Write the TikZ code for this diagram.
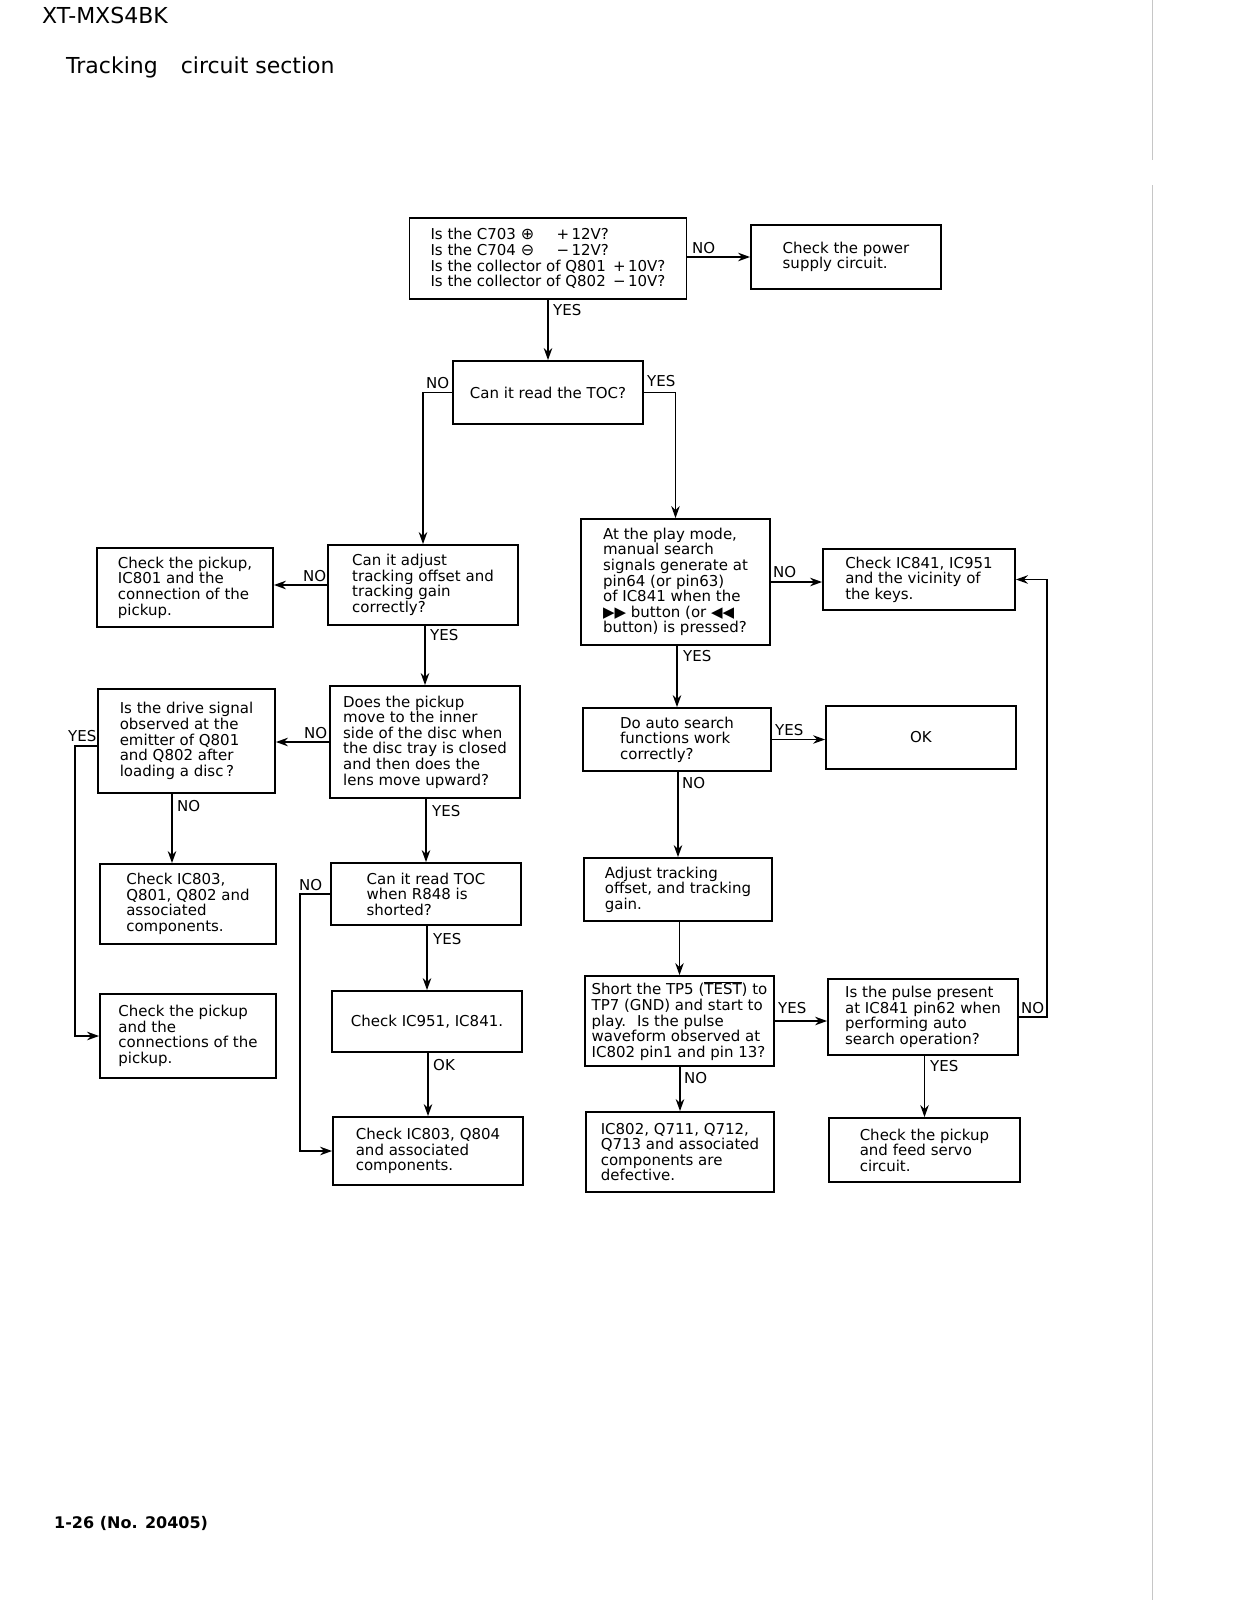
\documentclass[tikz,border=0pt]{standalone}
\usepackage{fontspec}
\setmainfont{DejaVu Sans}
\usetikzlibrary{arrows.meta,calc}
\begin{document}
\begin{tikzpicture}[x=1pt,y=-1pt,
  box/.style={draw, line width=1.8pt, align=left, inner sep=0pt,
    font=\fontsize{15}{15.6}\selectfont},
  arr/.style={line width=1.6pt, -{Stealth[length=12pt,width=8.5pt]}},
  lbl/.style={font=\fontsize{15}{16}\selectfont, anchor=base west, inner sep=0pt},
  hdr/.style={font=\fontsize{22}{24}\selectfont, anchor=base west, inner sep=0pt}]
\useasboundingbox (0,0) rectangle (1237,1600);

% header / footer
\node[hdr] (model) at (42,24) {XT-MXS4BK};
\node[hdr] (title) at (66,74) {Tracking\hspace{23pt}circuit section};
\node[anchor=base west, inner sep=0pt, font=\bfseries\fontsize{16}{18}\selectfont] (foot) at (54,1528) {1-26 (No. 20405)};
\draw[gray!45, line width=0.6pt] (1152,0) -- (1152,160) (1152,185) -- (1152,1600);

% boxes
\node[box, minimum width=277pt, minimum height=81pt] (B1) at (548,258.5)
 {\makebox[126pt][l]{Is the C703 \smash{\fontsize{16}{15}\selectfont ⊕}}+\,12V?\\
  \makebox[126pt][l]{Is the C704 \smash{\fontsize{16}{15}\selectfont ⊖}}−\,12V?\\
  Is the collector of Q801 \,+\,10V?\\
  Is the collector of Q802 \,−\,10V?};
\node[box, minimum width=190pt, minimum height=64pt] (B2) at (846,257)
 {Check the power\\supply circuit.};
\node[box, minimum width=190pt, minimum height=63pt] (B3) at (548,392.5)
 {Can it read the TOC?};
\node[box, minimum width=190pt, minimum height=80pt] (B4) at (423,585)
 {Can it adjust\\tracking offset and\\tracking gain\\correctly?};
\node[box, minimum width=176pt, minimum height=79pt] (B5) at (185,587.5)
 {Check the pickup,\\IC801 and the\\connection of the\\pickup.};
\node[box, minimum width=189pt, minimum height=126pt] (B6) at (675.5,582)
 {At the play mode,\\manual search\\signals generate at\\pin64 (or pin63)\\of IC841 when the\\▶▶ button (or ◀◀\\button) is pressed?};
\node[box, minimum width=192pt, minimum height=61pt] (B7) at (919,579.5)
 {Check IC841, IC951\\and the vicinity of\\the keys.};
\node[box, minimum width=190pt, minimum height=112pt] (B8) at (425,742)
 {Does the pickup\\move to the inner\\side of the disc when\\the disc tray is closed\\and then does the\\lens move upward?};
\node[box, minimum width=177pt, minimum height=104pt] (B9) at (186.5,741)
 {Is the drive signal\\observed at the\\emitter of Q801\\and Q802 after\\loading a disc\,?};
\node[box, minimum width=188pt, minimum height=63pt] (B10) at (677,739.5)
 {Do auto search\\functions work\\correctly?};
\node[box, minimum width=190pt, minimum height=63pt] (B11) at (921,737.5)
 {OK};
\node[box, minimum width=176pt, minimum height=80pt] (B12) at (188,904)
 {Check IC803,\\Q801, Q802 and\\associated\\components.};
\node[box, minimum width=190pt, minimum height=62pt] (B13) at (426,894)
 {Can it read TOC\\when R848 is\\shorted?};
\node[box, minimum width=188pt, minimum height=63pt] (B14) at (678,889.5)
 {Adjust tracking\\offset, and tracking\\gain.};
\node[box, minimum width=176pt, minimum height=84pt] (B15) at (188,1036)
 {Check the pickup\\and the\\connections of the\\pickup.};
\node[box, minimum width=190pt, minimum height=61pt] (B16) at (427,1021.5)
 {Check IC951, IC841.};
\node[box, minimum width=189pt, minimum height=90pt] (B17) at (679.5,1021)
 {Short the TP5 ($\overline{\mbox{TEST}}$) to\\TP7 (GND) and start to\\play. \ Is the pulse\\waveform observed at\\IC802 pin1 and pin 13?};
\node[box, minimum width=190pt, minimum height=76pt] (B18) at (923,1017)
 {Is the pulse present\\at IC841 pin62 when\\performing auto\\search operation?};
\node[box, minimum width=190pt, minimum height=68pt] (B19) at (428,1151)
 {Check IC803, Q804\\and associated\\components.};
\node[box, minimum width=188pt, minimum height=80pt] (B20) at (680,1152)
 {IC802, Q711, Q712,\\Q713 and associated\\components are\\defective.};
\node[box, minimum width=191pt, minimum height=64pt] (B21) at (924.5,1150)
 {Check the pickup\\and feed servo\\circuit.};

% helper coordinates
\coordinate (xL) at (75,0);
\coordinate (xM) at (300,0);
\coordinate (xR) at (1047,0);
\coordinate (x172) at (172,0);

% connectors
\draw[arr] (B1.east |- B2.west) -- (B2.west);
\draw[arr] (B1.south -| B3.north) -- (B3.north);
\draw[arr] (B3.west) -| (B4.north);
\draw[arr] (B3.east) -| (B6.north);
\draw[arr] (B4.west) -- (B4.west -| B5.east);
\draw[arr] (B4.south -| B8.north) -- (B8.north);
\draw[arr] (B6.east) -- (B6.east -| B7.west);
\draw[arr] (B6.south -| B10.north) -- (B10.north);
\draw[arr] (B8.west) -- (B8.west -| B9.east);
\draw[arr] ([yshift=-5pt]B9.west) -- ([yshift=-5pt]B9.west -| xL) |- (B15.west);
\draw[arr] (B9.south -| x172) -- (B12.north -| x172);
\draw[arr] (B8.south -| B13.north) -- (B13.north);
\draw[arr] (B10.east) -- (B10.east -| B11.west);
\draw[arr] (B10.south -| B14.north) -- (B14.north);
\draw[arr] (B13.west) -- (B13.west -| xM) |- (B19.west);
\draw[arr] (B13.south -| B16.north) -- (B16.north);
\draw[arr] (B14.south -| B17.north) -- (B17.north);
\draw[arr] (B16.south -| B19.north) -- (B19.north);
\draw[arr] (B17.east) -- (B17.east -| B18.west);
\draw[arr] (B17.south -| B20.north) -- (B20.north);
\draw[arr] (B18.east) -- (B18.east -| xR) |- (B7.east);
\draw[arr] (B18.south -| B21.north) -- (B21.north);

% labels
\node[lbl] (L1) at (692,253) {NO};
\node[lbl] (L2) at (553,315) {YES};
\node[lbl] (L3) at (426,388) {NO};
\node[lbl] (L4) at (647,386) {YES};
\node[lbl] (L5) at (303,581) {NO};
\node[lbl] (L6) at (430,640) {YES};
\node[lbl] (L7) at (773,577) {NO};
\node[lbl] (L8) at (683,661) {YES};
\node[lbl] (L9) at (304,738) {NO};
\node[lbl] (L10) at (68,741) {YES};
\node[lbl] (L11) at (177,811) {NO};
\node[lbl] (L12) at (432,816) {YES};
\node[lbl] (L13) at (775,735) {YES};
\node[lbl] (L14) at (682,788) {NO};
\node[lbl] (L15) at (299,890) {NO};
\node[lbl] (L16) at (433,944) {YES};
\node[lbl] (L17) at (433,1070) {OK};
\node[lbl] (L18) at (778,1013) {YES};
\node[lbl] (L19) at (684,1083) {NO};
\node[lbl] (L20) at (1021,1013) {NO};
\node[lbl] (L21) at (930,1071) {YES};
\end{tikzpicture}
\end{document}
